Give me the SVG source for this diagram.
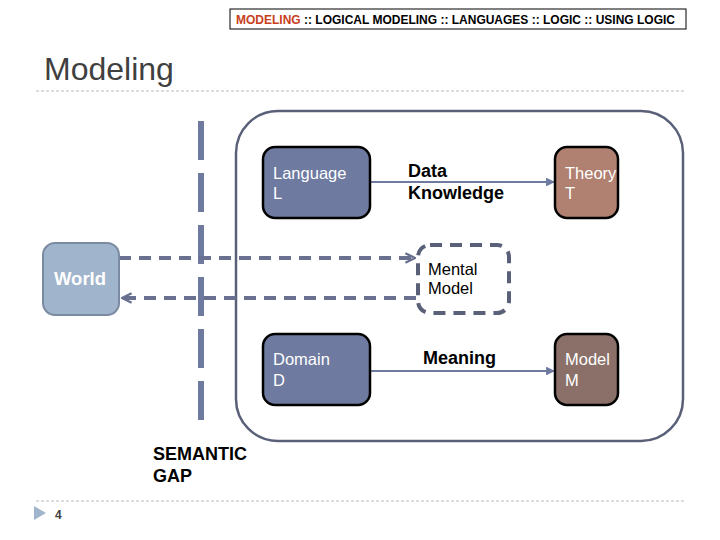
<svg xmlns="http://www.w3.org/2000/svg" width="720" height="540" viewBox="0 0 720 540">
<style>
text{font-family:"Liberation Sans",Arial,sans-serif}
.node{stroke:#000;stroke-width:2.5}
.wt{fill:#fff;font-size:16.5px}
.bt{fill:#000;font-size:18px;font-weight:bold}
.sep{stroke:#bbb;stroke-width:1;stroke-dasharray:3 2}
.da{fill:none;stroke:#6a7090;stroke-width:4;stroke-dasharray:12 8}
.sa{fill:none;stroke:#6e7aa0;stroke-width:2.2}
</style>
<defs>
<marker id="ah" viewBox="0 0 10 10" refX="9" refY="5" markerWidth="4" markerHeight="4" orient="auto" markerUnits="strokeWidth">
<path d="M0,0 L10,5 L0,10 z" fill="#6e7aa0"/>
</marker>
<marker id="oh" viewBox="0 0 10 10" refX="9" refY="5" markerWidth="3" markerHeight="3" orient="auto" markerUnits="strokeWidth">
<path d="M1,1 L9,5 L1,9" fill="none" stroke="#6a7090" stroke-width="2"/>
</marker>
</defs>
<rect width="720" height="540" fill="#fff"/>
<g id="header">
<rect x="230" y="9" width="456" height="20" fill="#fff" stroke="#000" stroke-width="1"/>
<text x="236" y="24" font-size="12" font-weight="bold" textLength="439" lengthAdjust="spacingAndGlyphs"><tspan fill="#c8401c">MODELING</tspan><tspan fill="#000"> :: LOGICAL MODELING :: LANGUAGES :: LOGIC :: USING LOGIC</tspan></text>
</g>
<text x="44" y="80" font-size="32" fill="#404040">Modeling</text>
<line class="sep" x1="36" y1="91" x2="686" y2="91"/>
<line class="sep" x1="36" y1="501" x2="686" y2="501"/>
<path d="M34,506 L46,513 L34,520 z" fill="#a0b4cc"/>
<text x="55" y="519" font-size="12" font-weight="bold" fill="#404040">4</text>
<g id="semantic-gap">
<line x1="201" y1="121" x2="201" y2="421" stroke="#6e7aa0" stroke-width="6" stroke-dasharray="39 13"/>
<text class="bt" x="153" y="460">SEMANTIC</text>
<text class="bt" x="153" y="482">GAP</text>
</g>
<g id="frame">
<rect x="236" y="111" width="447" height="330" rx="42" fill="none" stroke="#5a6078" stroke-width="2.5"/>
</g>
<g id="connectors">
<line class="sa" x1="370" y1="182" x2="554" y2="182" marker-end="url(#ah)"/>
<line class="sa" x1="370" y1="371" x2="554" y2="371" marker-end="url(#ah)"/>
<line class="da" x1="119" y1="258" x2="415" y2="258" marker-end="url(#oh)"/>
<line class="da" x1="416" y1="298" x2="122" y2="298" marker-end="url(#oh)"/>
<text class="bt" x="408" y="177">Data</text>
<text class="bt" x="408" y="199">Knowledge</text>
<text class="bt" x="423" y="364">Meaning</text>
</g>
<g id="language">
<rect class="node" x="263" y="147" width="107" height="71" rx="12" fill="#6e7aa0"/>
<text class="wt" x="273" y="179">Language</text>
<text class="wt" x="273" y="199">L</text>
</g>
<g id="theory">
<rect class="node" x="555" y="147" width="63" height="71" rx="12" fill="#b08070"/>
<text class="wt" x="565" y="179">Theory</text>
<text class="wt" x="565" y="199">T</text>
</g>
<g id="domain">
<rect class="node" x="263" y="334" width="107" height="71" rx="12" fill="#6e7aa0"/>
<text class="wt" x="273" y="365">Domain</text>
<text class="wt" x="273" y="386">D</text>
</g>
<g id="model">
<rect class="node" x="555" y="334" width="63" height="71" rx="12" fill="#8a7068"/>
<text class="wt" x="565" y="365">Model</text>
<text class="wt" x="565" y="386">M</text>
</g>
<g id="mental-model">
<rect x="418" y="245" width="91" height="68" rx="12" fill="#fff" stroke="#5a6078" stroke-width="4" stroke-dasharray="12 8"/>
<text x="428" y="275" font-size="16.5" fill="#000">Mental</text>
<text x="428" y="294" font-size="16.5" fill="#000">Model</text>
</g>
<g id="world">
<rect x="43" y="243" width="76" height="72" rx="12" fill="#a0b4cc" stroke="#7a8aa0" stroke-width="2"/>
<text x="80" y="285" font-size="18.5" font-weight="bold" fill="#fff" text-anchor="middle">World</text>
</g>
</svg>
